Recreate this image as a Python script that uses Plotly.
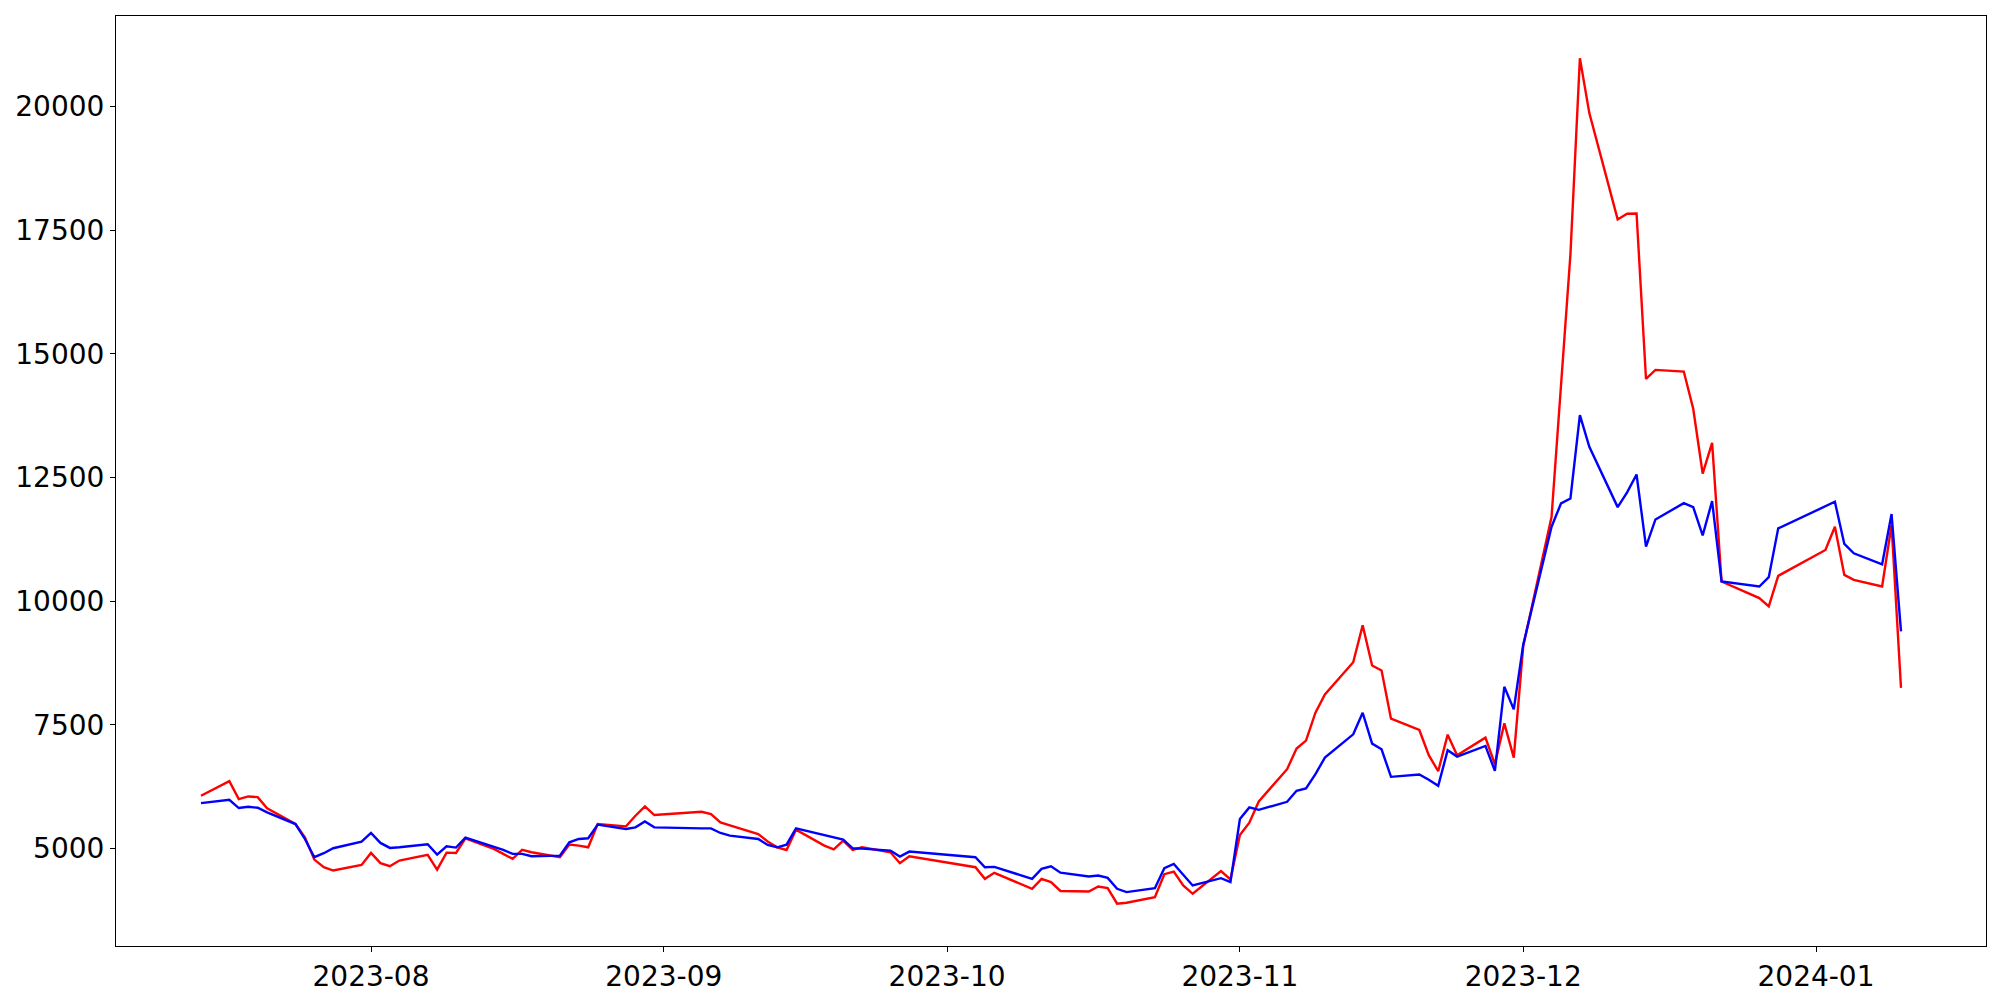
import pandas as pd
import plotly.graph_objects as go

dates = [
    "2023-07-14", "2023-07-17", "2023-07-18", "2023-07-19", "2023-07-20", "2023-07-21",
    "2023-07-24", "2023-07-25", "2023-07-26", "2023-07-27", "2023-07-28",
    "2023-07-31", "2023-08-01", "2023-08-02", "2023-08-03", "2023-08-04",
    "2023-08-07", "2023-08-08", "2023-08-09", "2023-08-10", "2023-08-11",
    "2023-08-14", "2023-08-15", "2023-08-16", "2023-08-17", "2023-08-18",
    "2023-08-21", "2023-08-22", "2023-08-23", "2023-08-24", "2023-08-25",
    "2023-08-28", "2023-08-29", "2023-08-30", "2023-08-31",
    "2023-09-05", "2023-09-06", "2023-09-07", "2023-09-08",
    "2023-09-11", "2023-09-12", "2023-09-13", "2023-09-14", "2023-09-15",
    "2023-09-18", "2023-09-19", "2023-09-20", "2023-09-21", "2023-09-22",
    "2023-09-25", "2023-09-26", "2023-09-27",
    "2023-10-04", "2023-10-05", "2023-10-06",
    "2023-10-10", "2023-10-11", "2023-10-12", "2023-10-13",
    "2023-10-16", "2023-10-17", "2023-10-18", "2023-10-19", "2023-10-20",
    "2023-10-23", "2023-10-24", "2023-10-25", "2023-10-26", "2023-10-27",
    "2023-10-30", "2023-10-31", "2023-11-01", "2023-11-02", "2023-11-03",
    "2023-11-06", "2023-11-07", "2023-11-08", "2023-11-09", "2023-11-10",
    "2023-11-13", "2023-11-14", "2023-11-15", "2023-11-16", "2023-11-17",
    "2023-11-20", "2023-11-21", "2023-11-22", "2023-11-23", "2023-11-24",
    "2023-11-27", "2023-11-28", "2023-11-29", "2023-11-30", "2023-12-01",
    "2023-12-04", "2023-12-05", "2023-12-06", "2023-12-07", "2023-12-08",
    "2023-12-11", "2023-12-12", "2023-12-13", "2023-12-14", "2023-12-15",
    "2023-12-18", "2023-12-19", "2023-12-20", "2023-12-21", "2023-12-22",
    "2023-12-26", "2023-12-27", "2023-12-28",
    "2024-01-02", "2024-01-03", "2024-01-04", "2024-01-05",
    "2024-01-08", "2024-01-09", "2024-01-10",
]

red_values = [
    6064, 6360, 5997, 6051, 6037, 5810,
    5493, 5225, 4774, 4621, 4553,
    4667, 4909, 4702, 4641, 4754,
    4869, 4573, 4915, 4909, 5205,
    4990, 4889, 4788, 4970, 4923,
    4822, 5077, 5057, 5023, 5493,
    5446, 5661, 5849, 5675,
    5742, 5695, 5527, 5467,
    5292, 5140, 5023, 4969, 5379,
    5057, 4983, 5158, 4969, 5023,
    4922, 4701, 4842,
    4620, 4385, 4506,
    4184, 4385, 4318, 4140,
    4130, 4231, 4197, 3882, 3902,
    4016, 4479, 4533, 4251, 4083,
    4540, 4372, 5270, 5520, 5950,
    6602, 7018, 7179, 7743, 8113,
    8764, 9510, 8697, 8596, 7622,
    7394, 6884, 6561, 7300, 6884,
    7240, 6702, 7528, 6837, 9087,
    11706, 14459, 17011, 20974, 19866,
    17716, 17831, 17837, 14493, 14674,
    14641, 13888, 12579, 13200, 10396,
    10060, 9892, 10510,
    11034, 11504, 10530, 10430,
    10295, 11538, 8247,
]

blue_values = [
    5917, 5983, 5816, 5842, 5822, 5729,
    5493, 5191, 4823, 4903, 5004,
    5137, 5312, 5111, 5010, 5023,
    5084, 4875, 5044, 5017, 5218,
    5043, 4970, 4889, 4889, 4842,
    4855, 5124, 5191, 5205, 5480,
    5393, 5426, 5547, 5426,
    5406, 5406, 5312, 5258,
    5191, 5070, 5023, 5077, 5406,
    5268, 5222, 5178, 5003, 4996,
    4956, 4835, 4936,
    4822, 4620, 4627,
    4385, 4587, 4640, 4510,
    4432, 4452, 4405, 4184, 4117,
    4197, 4600, 4687, 4466, 4251,
    4399, 4318, 5594, 5829, 5780,
    5943, 6165, 6212, 6501, 6837,
    7307, 7743, 7119, 7005, 6447,
    6494, 6387, 6266, 6984, 6857,
    7072, 6568, 8267, 7811, 9120,
    11504, 11974, 12075, 13760, 13120,
    11900, 12200, 12560, 11100, 11650,
    11980, 11900, 11330, 12020, 10396,
    10295, 10483, 11470,
    11920, 12008, 11155, 10967,
    10745, 11759, 9389,
]

y_tick_values = [5000, 7500, 10000, 12500, 15000, 17500, 20000]
y_tick_labels = ["5000", "7500", "10000", "12500", "15000", "17500", "20000"]

x = pd.to_datetime(dates)

fig = go.Figure()
fig.add_trace(go.Scatter(x=x, y=red_values, mode="lines",
                         line=dict(color="red", width=2.4), showlegend=False))
fig.add_trace(go.Scatter(x=x, y=blue_values, mode="lines",
                         line=dict(color="blue", width=2.4), showlegend=False))

span = x.max() - x.min()
x_range = [x.min() - span * 0.05, x.max() + span * 0.05]
all_vals = red_values + blue_values
ymin, ymax = min(all_vals), max(all_vals)
ypad = (ymax - ymin) * 0.05
y_range = [ymin - ypad, ymax + ypad]

font = dict(family="DejaVu Sans", size=28, color="black")

fig.update_layout(
    width=1992, height=992,
    margin=dict(l=104, r=14, t=7, b=53, pad=0),
    plot_bgcolor="white", paper_bgcolor="white",
    font=font,
)
fig.update_xaxes(
    range=x_range, showgrid=False, zeroline=False,
    showline=True, linecolor="black", linewidth=1.1, mirror=True,
    ticks="outside", ticklen=5, tickwidth=1.1, tickcolor="black",
    dtick="M1", tick0="2023-08-01", tickformat="%Y-%m",
    tickfont=font,
)
fig.update_yaxes(
    range=y_range, showgrid=False, zeroline=False,
    showline=True, linecolor="black", linewidth=1.1, mirror=True,
    ticks="outside", ticklen=5, tickwidth=1.1, tickcolor="black",
    tickmode="array", tickvals=y_tick_values, ticktext=y_tick_labels,
    tickfont=font,
)

fig.write_html("out.html")
